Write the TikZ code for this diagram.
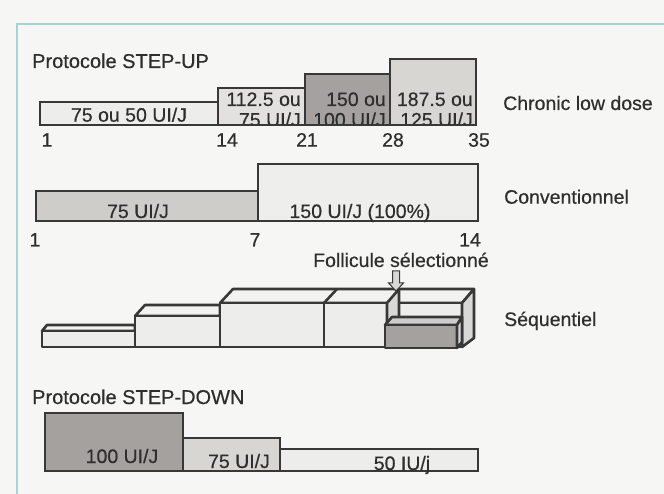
\documentclass[tikz,border=0pt]{standalone}
\usepackage{fontspec}
\setmainfont[FakeBold=0.5]{Liberation Sans}
\definecolor{ink}{HTML}{383838}
\definecolor{txt}{HTML}{2E2E2E}
\definecolor{bgc}{HTML}{F6F6F5}
\definecolor{framec}{HTML}{A3D5D5}
\definecolor{cA}{HTML}{EDEDEB}
\definecolor{cB}{HTML}{E2E1DF}
\definecolor{cC}{HTML}{A4A19E}
\definecolor{cD}{HTML}{D8D6D3}
\definecolor{cE}{HTML}{CFCDCA}
\definecolor{cF}{HTML}{EEEEED}
\definecolor{side}{HTML}{D8D8D6}
\definecolor{topf}{HTML}{F2F2F1}
\begin{document}
\begin{tikzpicture}[x=1pt,y=-1pt,line join=miter]
\tikzset{
  bar/.style={draw=ink,line width=2.6pt},
  blk/.style={draw=ink,line width=2.6pt,line join=round},
  lab/.style={font=\fontsize{19.5}{19.5}\selectfont,text=txt,inner sep=0pt},
  ttl/.style={font=\fontsize{20}{20}\selectfont,text=txt,inner sep=0pt,anchor=base west},
}
\useasboundingbox (0,0) rectangle (664,494);
\fill[bgc] (0,0) rectangle (664,494);
\draw[framec,line width=1.4pt] (664,24) -- (17,24) -- (17,494);

% ---------- STEP-UP : chronic low dose ----------
\node[ttl] (t1) at (32,68) {Protocole STEP-UP};
\fill[cA] (40,102) rectangle (218,125);
\fill[cB] (218,88) rectangle (305,125);
\fill[cC] (305,74) rectangle (390,125);
\fill[cD] (390,59) rectangle (476,125);
\node[lab,anchor=base] (c1) at (129,121.7) {75 ou 50 UI/J};
\begin{scope}
  \clip (218,88) rectangle (476,124);
  \node[lab,anchor=base east] (c2a) at (301,106) {112.5 ou};
  \node[lab,anchor=base east] (c2b) at (301,126.5) {75 UI/J};
  \node[lab,anchor=base east] (c3a) at (386,106) {150 ou};
  \node[lab,anchor=base east] (c3b) at (386,126.5) {100 UI/J};
  \node[lab,anchor=base east] (c4a) at (473,106) {187.5 ou};
  \node[lab,anchor=base east] (c4b) at (473,126.5) {125 UI/J};
\end{scope}
\draw[bar] (40,102) rectangle (218,125);
\draw[bar] (218,88) rectangle (305,125);
\draw[bar] (305,74) rectangle (390,125);
\draw[bar] (390,59) rectangle (476,125);
\node[lab,anchor=base] (n1) at (47,146.7) {1};
\node[lab,anchor=base] (n14) at (227,146.7) {14};
\node[lab,anchor=base] (n21) at (307,146.7) {21};
\node[lab,anchor=base] (n28) at (393,146.7) {28};
\node[lab,anchor=base] (n35) at (479,146.7) {35};
\node[lab,anchor=base west] (cld) at (503,110) {Chronic low dose};

% ---------- Conventionnel ----------
\fill[cE] (36,191) rectangle (258,221);
\fill[cF] (258,164) rectangle (478,221);
\draw[bar] (36,191) rectangle (258,221);
\draw[bar] (258,164) rectangle (478,221);
\node[lab,anchor=base] (v1) at (138,218) {75 UI/J};
\node[lab,anchor=base] (v2) at (360,218) {150 UI/J (100\%)};
\node[lab,anchor=base] (m1) at (35,246.5) {1};
\node[lab,anchor=base] (m7) at (255,246.5) {7};
\node[lab,anchor=base] (m14) at (470,246.5) {14};
\node[lab,anchor=base west] (conv) at (504,203.7) {Conventionnel};

% ---------- Sequentiel ----------
\node[lab,anchor=base west] (fol) at (313,267) {Follicule sélectionné};
\node[lab,anchor=base west] (seq) at (504,326) {Séquentiel};
% block 1
\filldraw[blk,fill=topf] (42,331) -- (47,325) -- (135,325) -- (135,331) -- cycle;
\filldraw[blk,fill=cA] (42,331) rectangle (135,347);
% block 2
\filldraw[blk,fill=topf] (135,316) -- (145,305) -- (220,305) -- (220,316) -- cycle;
\filldraw[blk,fill=cA] (135,316) rectangle (220,347);
% blocks 3-5 top face
\filldraw[blk,fill=topf] (220,303) -- (233,289) -- (474,289) -- (462,303) -- cycle;
\draw[blk] (324,303) -- (337,289);
\filldraw[blk,fill=cA] (220,303) rectangle (324,347);
\filldraw[blk,fill=cA] (324,303) rectangle (387,347);
\filldraw[blk,fill=cA] (399,303) rectangle (462,347);
\filldraw[blk,fill=side] (387,303) -- (399,289) -- (399,347) -- (387,347) -- cycle;
\filldraw[blk,fill=side] (462,303) -- (474,289) -- (474,338) -- (462,347) -- cycle;
% selected follicle (dark box)
\filldraw[blk,fill=side!80!cC] (385,325) -- (392,317) -- (462,317) -- (457,325) -- cycle;
\filldraw[blk,fill=cC] (385,325) rectangle (457,348);
\filldraw[blk,fill=side] (457,325) -- (462,317) -- (462,342) -- (457,348) -- cycle;
% arrow
\coordinate (tip) at (396,291);
\filldraw[draw=ink,line width=1pt,fill=side]
  ([shift={(-3.5,-20)}]tip) -- ([shift={(3.5,-20)}]tip) -- ([shift={(3.5,-8)}]tip)
  -- ([shift={(7.5,-8)}]tip) -- (tip) -- ([shift={(-7.5,-8)}]tip)
  -- ([shift={(-3.5,-8)}]tip) -- cycle;

% ---------- STEP-DOWN ----------
\node[ttl] (t2) at (32,404) {Protocole STEP-DOWN};
\fill[cC] (45,413) rectangle (183,471);
\fill[cD] (183,438) rectangle (280,471);
\fill[cA] (280,449) rectangle (478,471);
\draw[bar] (45,413) rectangle (183,471);
\draw[bar] (183,438) rectangle (280,471);
\draw[bar] (280,449) rectangle (478,471);
\node[lab,anchor=base] (d1) at (122,463) {100 UI/J};
\node[lab,anchor=base] (d2) at (239,468) {75 UI/J};
\node[lab,anchor=base] (d3) at (402,470) {50 IU/j};
\end{tikzpicture}
\end{document}
